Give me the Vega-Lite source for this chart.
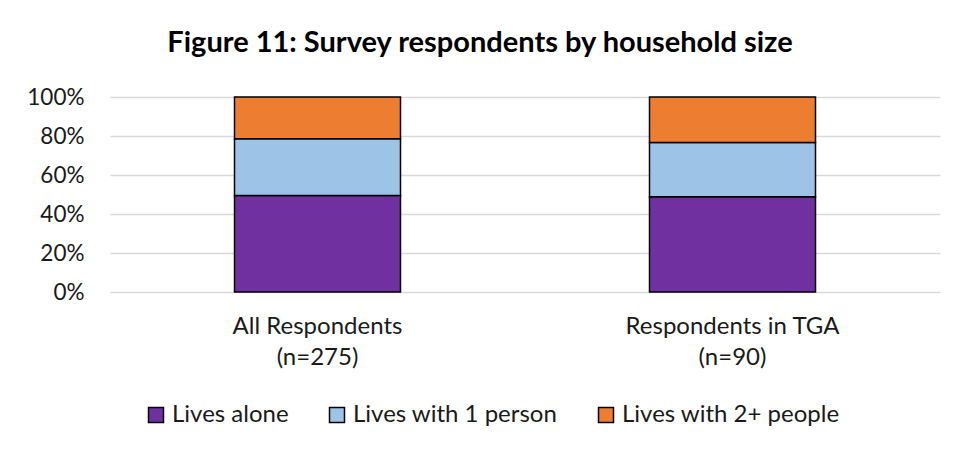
{
  "$schema": "https://vega.github.io/schema/vega-lite/v6.json",
  "width": 830,
  "height": 195,
  "autosize": {"type": "none"},
  "padding": {"left": 110, "top": 97, "right": 19, "bottom": 163},
  "background": "white",
  "title": {
    "text": "Figure 11: Survey respondents by household size",
    "font": "Lato",
    "fontSize": 29,
    "fontWeight": "bold",
    "color": "black",
    "anchor": "middle",
    "dx": -45,
    "offset": 28
  },
  "data": {
    "values": [
      {"group": "All Respondents|(n=275)", "household": "Lives alone", "rank": 1, "pct": 49.45},
      {"group": "All Respondents|(n=275)", "household": "Lives with 1 person", "rank": 2, "pct": 29.09},
      {"group": "All Respondents|(n=275)", "household": "Lives with 2+ people", "rank": 3, "pct": 21.46},
      {"group": "Respondents in TGA|(n=90)", "household": "Lives alone", "rank": 1, "pct": 48.89},
      {"group": "Respondents in TGA|(n=90)", "household": "Lives with 1 person", "rank": 2, "pct": 27.78},
      {"group": "Respondents in TGA|(n=90)", "household": "Lives with 2+ people", "rank": 3, "pct": 23.33}
    ]
  },
  "mark": {"type": "bar", "stroke": "black", "strokeWidth": 1.5},
  "encoding": {
    "x": {
      "field": "group",
      "type": "nominal",
      "sort": null,
      "scale": {"paddingInner": 0.6, "paddingOuter": 0.3},
      "axis": {
        "title": null,
        "labelAngle": 0,
        "ticks": false,
        "domain": false,
        "grid": false,
        "labelPadding": 22,
        "labelLineHeight": 31,
        "labelLimit": 400,
        "labelFont": "Lato",
        "labelFontSize": 24,
        "labelColor": "#1a1a1a",
        "labelExpr": "split(datum.label, '|')"
      }
    },
    "y": {
      "field": "pct",
      "type": "quantitative",
      "stack": "zero",
      "scale": {"domain": [0, 100]},
      "axis": {
        "title": null,
        "values": [0, 20, 40, 60, 80, 100],
        "labelExpr": "datum.value + '%'",
        "ticks": false,
        "domain": false,
        "grid": true,
        "gridColor": "#d9d9d9",
        "gridWidth": 1.5,
        "labelPadding": 26,
        "labelFont": "Lato",
        "labelFontSize": 22.5,
        "labelColor": "#1a1a1a"
      }
    },
    "order": {"field": "rank", "type": "quantitative"},
    "color": {
      "field": "household",
      "type": "nominal",
      "scale": {
        "domain": ["Lives alone", "Lives with 1 person", "Lives with 2+ people"],
        "range": ["#7030a0", "#9dc3e6", "#ed7d31"]
      },
      "legend": {
        "title": null,
        "orient": "none",
        "direction": "horizontal",
        "legendX": 34,
        "legendY": 306,
        "symbolType": "square",
        "symbolSize": 225,
        "symbolStrokeColor": "black",
        "symbolStrokeWidth": 1.5,
        "symbolOpacity": 1,
        "labelOffset": 4,
        "columnPadding": 36,
        "labelFont": "Lato",
        "labelFontSize": 24,
        "labelColor": "#1a1a1a",
        "labelLimit": 400
      }
    }
  },
  "config": {"view": {"stroke": null}}
}
